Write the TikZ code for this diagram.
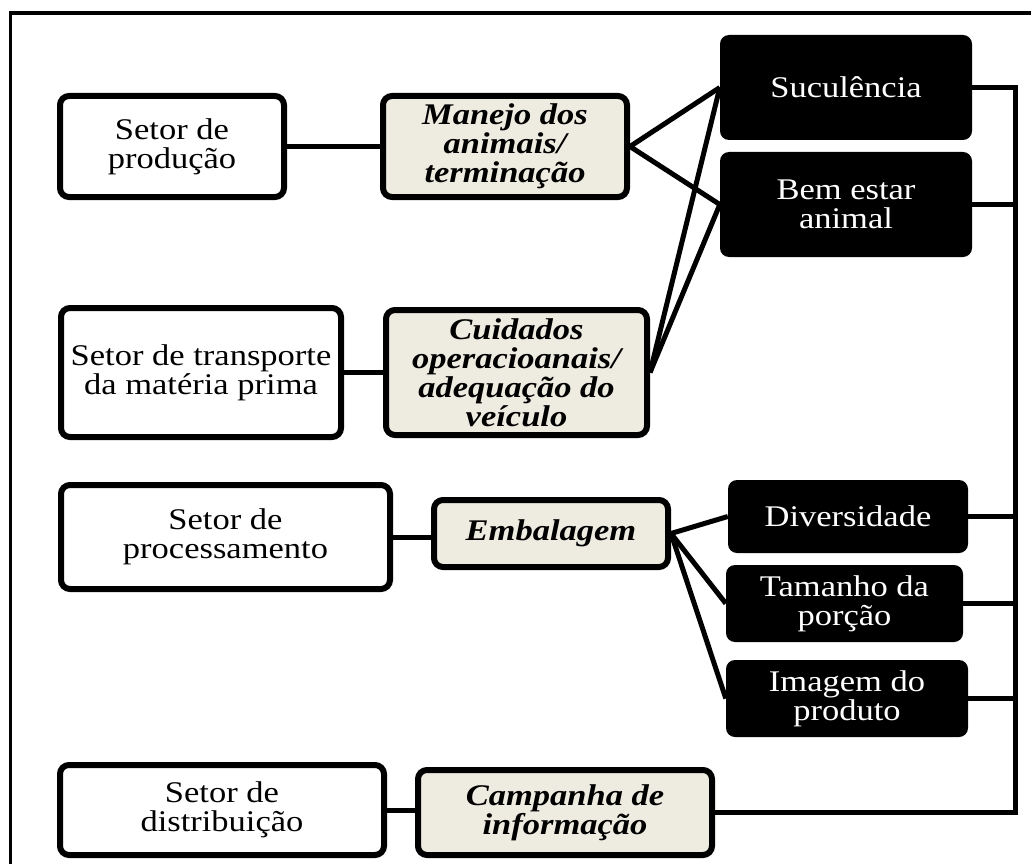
\documentclass[tikz,border=0pt]{standalone}
\usepackage{fontspec}
\setmainfont{Liberation Serif}[FakeStretch=1.15]
\definecolor{bege}{HTML}{EEECE1}
\tikzset{
  SetorStyle/.style = { rectangle, draw, line width=6pt, rounded corners=9pt,
                        fill=white, align=center, inner sep=0pt,
                        font=\fontsize{30}{29}\selectfont },
  AcaoStyle/.style = { SetorStyle, fill=bege,
                       font=\fontsize{30}{29}\selectfont\bfseries\itshape },
  AtributoStyle/.style = { rectangle, rounded corners=9pt, fill=black,
                           text=white, align=center, inner sep=0pt,
                           font=\fontsize{30}{29}\selectfont },
  EdgeStyle/.style = { line width=5pt } }

\begin{document}
\begin{tikzpicture}[x=1pt,y=-1pt]
  \clip (0,0) rectangle (1031,864);
  \draw[line width=3.5pt] (10.5,13) rectangle (1060,900);
  % setores
  \node[SetorStyle, minimum width=224, minimum height=101](prod) at (172,146.5) {Setor de\\produção};
  \node[SetorStyle, minimum width=280, minimum height=129](transp) at (201,372.5) {Setor de transporte\\da matéria prima};
  \node[SetorStyle, minimum width=329, minimum height=104](proc) at (225.5,537) {Setor de\\processamento};
  \node[SetorStyle, minimum width=324, minimum height=90](dist) at (222,810) {Setor de\\distribuição};
  % acoes
  \node[AcaoStyle, minimum width=244, minimum height=101](manejo) at (505,146.5) {Manejo dos\\animais/\\terminação};
  \node[AcaoStyle, minimum width=261, minimum height=125](cuid) at (516.5,372.5) {Cuidados\\operacioanais/\\adequação do\\veículo};
  \node[AcaoStyle, minimum width=234, minimum height=67](emb) at (551,533.5) {Embalagem};
  \node[AcaoStyle, minimum width=294, minimum height=85](camp) at (565,812.5) {Campanha de\\informação};
  % atributos
  \node[AtributoStyle, minimum width=252, minimum height=105](suc) at (846,87.5) {Suculência};
  \node[AtributoStyle, minimum width=252, minimum height=105](bem) at (846,204.5) {Bem estar\\animal};
  \node[AtributoStyle, minimum width=240, minimum height=73](div) at (848,516.5) {Diversidade};
  \node[AtributoStyle, minimum width=237, minimum height=77](tam) at (844.5,603.5) {Tamanho da\\porção};
  \node[AtributoStyle, minimum width=242, minimum height=77](img) at (847,698.5) {Imagem do\\produto};
  \coordinate (busTop) at (1015,87.5);
  \coordinate (busBot) at (1015,812.5);

  \draw[EdgeStyle] (prod) -- (manejo);
  \draw[EdgeStyle] (transp) -- (cuid);
  \draw[EdgeStyle] (proc.east) -- (emb.west |- proc.east);
  \draw[EdgeStyle] (dist.east) -- (camp.west |- dist.east);
  \draw[EdgeStyle] (manejo.east) -- (suc.west);
  \draw[EdgeStyle] (manejo.east) -- (bem.west);
  \draw[EdgeStyle] (cuid.east) -- (suc.west);
  \draw[EdgeStyle] (cuid.east) -- (bem.west);
  \draw[EdgeStyle] (emb.east) -- (div.west);
  \draw[EdgeStyle] (emb.east) -- (tam.west);
  \draw[EdgeStyle] (emb.east) -- (img.west);
  \draw[EdgeStyle] (suc.east) -- (busTop) -- (busBot) -- (camp.east);
  \draw[EdgeStyle] (bem.east) -- (bem.east -| busTop);
  \draw[EdgeStyle] (div.east) -- (div.east -| busTop);
  \draw[EdgeStyle] (tam.east) -- (tam.east -| busTop);
  \draw[EdgeStyle] (img.east) -- (img.east -| busTop);
\end{tikzpicture}
\end{document}
